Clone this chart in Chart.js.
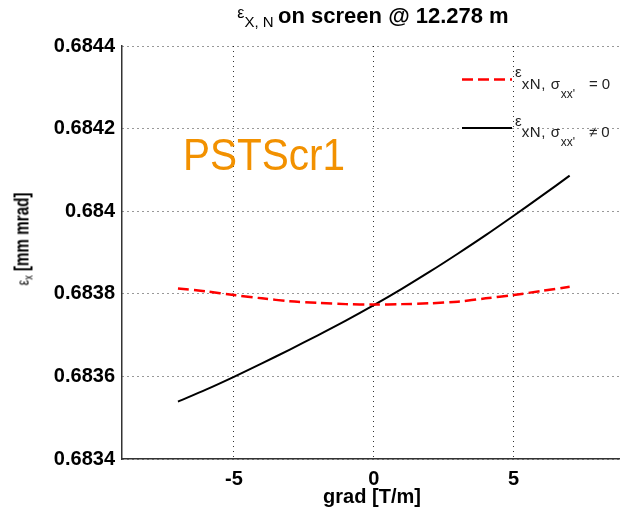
<!DOCTYPE html>
<html>
<head>
<meta charset="utf-8">
<script src="https://cdn.jsdelivr.net/npm/chart.js@4.4.1/dist/chart.umd.min.js"></script>
<style>
  html, body { margin: 0; padding: 0; background: #fff; overflow: hidden; }
  #wrap { position: relative; width: 620px; height: 516px; }
  canvas { position: absolute; left: 0; top: 0; }
  .txt { position: absolute; font-family: "Liberation Sans", Arial, sans-serif; color: #000; white-space: nowrap; }
  #title { left: 373px; top: 5px; line-height: 22px; transform: translateX(-50%); }
  #xlab { left: 372px; top: 486px; line-height: 20px; font-size: 20px; font-weight: bold; transform: translateX(-50%); }
  #ylab { left: 23px; top: 239px; line-height: 20px; font-size: 20px; font-weight: bold;
          transform: translate(-50%, -50%) rotate(-90deg) scaleX(0.76); }
  #tag { left: 183px; top: 132px; line-height: 45px; font-size: 45px; color: #f29100;
         transform: scaleX(0.9); transform-origin: left top; }
  .leg { left: 515px; line-height: 20px; font-size: 15px; color: #222; }
  .leg .m { letter-spacing: 0.6px; }
</style>
</head>
<body>
<div id="wrap">
  <canvas id="chart" width="620" height="516"></canvas>
  <div class="txt" id="title"><span style="font-size:16px;position:relative;top:-5px">ε</span><span style="font-size:15px;position:relative;top:4px">X, N</span> <b style="font-size:22px">on screen @ 12.278 m</b></div>
  <div class="txt" id="xlab">grad [T/m]</div>
  <div class="txt" id="ylab"><span style="font-weight:normal;font-size:16px">ε<span style="font-size:12px;position:relative;top:4px">x</span></span> [mm mrad]</div>
  <div class="txt" id="tag">PSTScr1</div>
  <div class="txt leg" id="leg1" style="top:74px"><span style="position:relative;top:-12px">ε</span><span class="m">xN, σ</span><span style="font-size:12px;position:relative;top:9px">xx'</span><span style="margin-left:14px">= 0</span></div>
  <div class="txt leg" id="leg2" style="top:122px"><span style="position:relative;top:-11px">ε</span><span class="m">xN, σ</span><span style="font-size:12px;position:relative;top:9px">xx'</span><span style="margin-left:14px">≠ 0</span></div>
</div>
<script>
const grad = [-7, -6, -5, -4, -3, -2, -1, 0, 1, 2, 3, 4, 5, 6, 7];
const emitNoCorr = [0.683813, 0.683806, 0.683797, 0.683789, 0.683782, 0.683778, 0.683775, 0.683774,
                    0.683775, 0.683777, 0.683781, 0.683789, 0.683797, 0.683807, 0.683817];
const emitCorr = [0.683539, 0.683568, 0.683599, 0.6836315, 0.683665, 0.6836995, 0.683735, 0.6837725,
                  0.683812, 0.6838535, 0.683897, 0.683942, 0.683989, 0.684037, 0.684086];
const xTicks = [-5, 0, 5];
const yTicks = [0.6834, 0.6836, 0.6838, 0.684, 0.6842, 0.6844];
const yTickLabels = ["0.6834", "0.6836", "0.6838", "0.684", "0.6842", "0.6844"];

const tickFont = { family: '"Liberation Sans", Arial, sans-serif', size: 20, weight: "bold" };
const gridStyle = { drawTicks: false, color: "rgba(0,0,0,0.8)", lineWidth: 1 };

// legend samples drawn with the dataset styles
const legendLines = {
  id: "legendLines",
  afterDatasetsDraw(chart) {
    const ctx = chart.ctx;
    const rows = [[0, 79.5], [1, 128]];
    rows.forEach(([i, y]) => {
      const ds = chart.data.datasets[i];
      ctx.save();
      ctx.strokeStyle = ds.borderColor;
      ctx.lineWidth = ds.borderWidth;
      ctx.setLineDash(ds.borderDash || []);
      ctx.beginPath();
      ctx.moveTo(462, y);
      ctx.lineTo(512, y);
      ctx.stroke();
      ctx.restore();
    });
  },
};

new Chart(document.getElementById("chart"), {
  type: "line",
  data: {
    datasets: [
      {
        label: "noCorr",
        data: grad.map((g, i) => ({ x: g, y: emitNoCorr[i] })),
        borderColor: "#ff0000",
        borderWidth: 2.5,
        borderDash: [11, 5],
        pointRadius: 0,
        tension: 0.3,
      },
      {
        label: "corr",
        data: grad.map((g, i) => ({ x: g, y: emitCorr[i] })),
        borderColor: "#000000",
        borderWidth: 2,
        pointRadius: 0,
        tension: 0.3,
      },
    ],
  },
  options: {
    responsive: false,
    animation: false,
    devicePixelRatio: 1,
    layout: { padding: { top: 46, left: 0, right: 0, bottom: 0 } },
    plugins: { legend: { display: false }, title: { display: false }, tooltip: { enabled: false } },
    scales: {
      x: {
        type: "linear",
        min: -9,
        max: 8.8,
        afterBuildTicks: (s) => { s.ticks = xTicks.map((v) => ({ value: v })); },
        afterFit: (s) => { s.height = 57; },
        ticks: { font: tickFont, color: "#000", padding: 8, maxRotation: 0 },
        grid: gridStyle,
        border: { display: true, color: "#333", width: 1.5, dash: [1, 4] },
      },
      y: {
        min: 0.6834,
        max: 0.6844,
        afterBuildTicks: (s) => { s.ticks = yTicks.map((v) => ({ value: v })); },
        afterFit: (s) => { s.width = 122; },
        ticks: {
          font: tickFont,
          color: "#000",
          padding: 7,
          callback: (v, i) => yTickLabels[i],
        },
        grid: gridStyle,
        border: { display: true, color: "#333", width: 1.5, dash: [1, 4] },
      },
    },
  },
  plugins: [legendLines],
});
</script>
</body>
</html>
